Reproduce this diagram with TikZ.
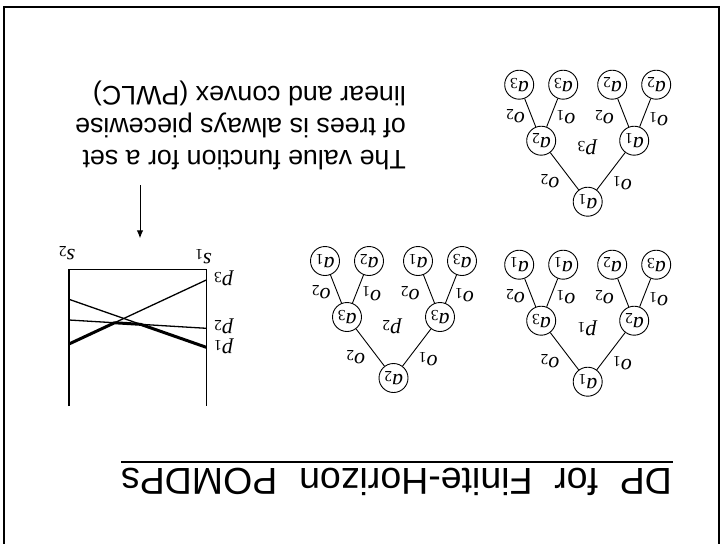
\documentclass[tikz,border=0pt]{standalone}
\usepackage{fontspec}
\setmainfont{Liberation Serif}
\newfontfamily\headfont{Liberation Sans}
\usetikzlibrary{arrows.meta}

% italic symbol with an upright subscript index
\newcommand\itsub[2]{\textit{#1}\textsubscript{#2}}

% a two-step policy tree: prefix, root position, root action,
% left/right child actions, four leaf actions
\newcommand\policytree[9]{%
  \begin{scope}[shift={#2}]
    \node[act] (#1r)  at (0,0)          {\itsub{a}{#3}};
    \node[act] (#1L)  at (-46.5,-61)    {\itsub{a}{#4}};
    \node[act] (#1R)  at (46.5,-61)     {\itsub{a}{#5}};
    \node[act] (#1LL) at (-68.5,-117)   {\itsub{a}{#6}};
    \node[act] (#1LR) at (-24.5,-117)   {\itsub{a}{#7}};
    \node[act] (#1RL) at (24.5,-117)    {\itsub{a}{#8}};
    \node[act] (#1RR) at (68.5,-117)    {\itsub{a}{#9}};
    \draw[branch] (#1r) -- (#1L);
    \draw[branch] (#1r) -- (#1R);
    \draw[branch] (#1L) -- (#1LL);
    \draw[branch] (#1L) -- (#1LR);
    \draw[branch] (#1R) -- (#1RL);
    \draw[branch] (#1R) -- (#1RR);
    \node[obs] (#1oL)  at (-38,-20.5)   {\itsub{o}{2}};
    \node[obs] (#1oR)  at (34.5,-18.5)  {\itsub{o}{1}};
    \node[obs] (#1oLL) at (-72.5,-85.5) {\itsub{o}{2}};
    \node[obs] (#1oLR) at (-22,-84.3)   {\itsub{o}{1}};
    \node[obs] (#1oRL) at (16.5,-84.8)  {\itsub{o}{2}};
    \node[obs] (#1oRR) at (70.8,-82.8)  {\itsub{o}{1}};
  \end{scope}}

\begin{document}
\begin{tikzpicture}[x=1pt, y=-1pt,
  every node/.append style={rotate=180},
  act/.style={circle, draw, line width=0.9pt, minimum size=29pt, inner sep=0pt,
              font=\fontsize{22}{22}\selectfont},
  obs/.style={inner sep=0pt, font=\fontsize{22}{22}\selectfont},
  branch/.style={line width=0.9pt},
  frameline/.style={line width=2.2pt},
  axisline/.style={line width=1.4pt},
  vecthin/.style={line width=1.3pt},
  vecthick/.style={line width=3pt, line join=round},
  callout/.style={font=\headfont\fontsize{26.8}{31.7}\selectfont, align=left, inner sep=0pt},
  heading/.style={font=\headfont\fontsize{37.5}{40}\selectfont, inner sep=0pt}
]
\useasboundingbox (0,0) rectangle (721,544);
\fill[white] (0,0) rectangle (721,544);

% slide frame
\draw[frameline] (3.8,544) -- (3.8,6.7) -- (719,6.7) -- (719,544);

% heading and rule
\node[heading, anchor=base] (title) at (396.5,468.3)
  {\spaceskip=21.8pt\relax DP for Finite-Horizon POMDPs};
\coordinate (ruleA) at (121,461.8);
\coordinate (ruleB) at (673,461.8);
\draw[line width=2.2pt] (ruleA) -- (ruleB);

% three policy trees
\policytree{A}{(587.7,201.7)}{1}{2}{1}{3}{3}{2}{2}
\node[obs] (pA) at (586.7,147.7) {\itsub{p}{3}};
\policytree{B}{(587.7,381.7)}{1}{3}{2}{1}{1}{2}{3}
\node[obs] (pB) at (586.7,328.3) {\itsub{p}{1}};
\policytree{C}{(393.5,378)}{2}{3}{3}{1}{2}{1}{3}
\node[obs] (pC) at (391.5,326.7) {\itsub{p}{2}};

% value function over the belief simplex
\draw[axisline] (69,406) -- (69,269.3) -- (206.3,269.3) -- (206.3,406);
\node[obs] (s1) at (203.3,256.7) {\itsub{s}{1}};
\node[obs] (s2) at (66.7,253.3)  {\itsub{s}{2}};
\draw[vecthin] (206.3,280)   -- (69,344);
\draw[vecthin] (206.3,328.3) -- (69,320);
\draw[vecthin] (206.3,347.3) -- (69,299.3);
\draw[vecthick] (69,344) -- (114.58,322.76) -- (140.59,324.33) -- (206.3,347.3);
\node[obs] (lp3) at (223.3,278.3) {\itsub{p}{3}};
\node[obs] (lp2) at (223.3,326)   {\itsub{p}{2}};
\node[obs] (lp1) at (223.3,346.7) {\itsub{p}{1}};

% explanation with pointer
\node[callout, anchor=west] (note) at (406,125.4)
  {The value function for a set\\of trees is always piecewise\\linear and convex (PWLC)};
\coordinate (tail) at (140,185);
\coordinate (tip) at (140,238.3);
\draw[line width=1pt, -{Latex[length=8pt,width=6.5pt]}] (tail) -- (tip);
\end{tikzpicture}
\end{document}
